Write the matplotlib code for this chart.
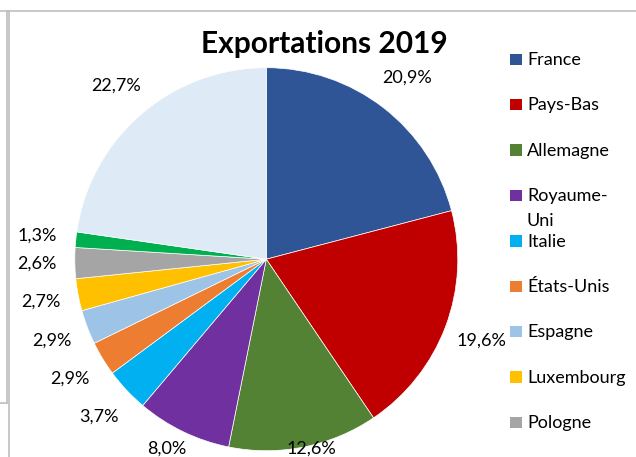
import numpy as np
import matplotlib
matplotlib.use('Agg')
from matplotlib import pyplot as plt
from matplotlib.lines import Line2D
from matplotlib.patches import Rectangle

plt.rcParams['font.family'] = ['Lato', 'DejaVu Sans']

# parts des exportations 2019 (%)
pays = ['France', 'Pays-Bas', 'Allemagne', 'Royaume-\nUni', 'Italie', 'États-Unis',
        'Espagne', 'Luxembourg', 'Pologne', 'Chine', 'Autres']
parts = [20.9, 19.6, 12.6, 8.0, 3.7, 2.9, 2.9, 2.7, 2.6, 1.3, 22.7]
couleurs = ['#2F5597', '#C00000', '#548235', '#7030A0', '#00B0F0', '#ED7D31',
            '#9DC3E6', '#FFC000', '#A5A5A5', '#00B050', '#DEEAF6']

W, H = 636, 457
fig = plt.figure(figsize=(W / 100, H / 100), dpi=100)

# pie centre (266, 259) px from top, radius ~191 px
cx, cy, r = 266.3, H - 259.2, 191.5
ax = fig.add_axes([(cx - r) / W, (cy - r) / H, 2 * r / W, 2 * r / H])

wedges, _, autotexts = ax.pie(parts, colors=couleurs, startangle=90, counterclock=False,
                              autopct=lambda p: f'{p:.1f}%'.replace('.', ','),
                              pctdistance=1.2,
                              wedgeprops=dict(edgecolor='white', linewidth=0.5),
                              textprops=dict(fontsize=13, color='black'))
ax.set_xlim(-1, 1)
ax.set_ylim(-1, 1)
ax.set_aspect('auto')

# keep bottom labels inside the chart area like Excel does
for t, v in zip(autotexts, parts):
    t.set_text(f'{v:.1f}%'.replace('.', ','))
    x, y = t.get_position()
    t.set_position((x, max(y, -0.99)))

fig.text(324 / W, 1 - 53.3 / H, 'Exportations 2019', ha='center', va='baseline',
         fontsize=21.5, fontweight='bold')

# legend drawn by hand (Excel keeps a fixed row pitch, the last rows fall off the chart)
for i, (nom, c) in enumerate(zip(pays, couleurs)):
    base = 65 + i * 45.4
    if base > H:
        break
    fig.add_artist(Rectangle((510 / W, 1 - base / H), 11.5 / W, 11.5 / H,
                             transform=fig.transFigure, facecolor=c, edgecolor='none'))
    for j, ligne in enumerate(nom.split('\n')):
        fig.text(527 / W, 1 - (base + j * 25) / H, ligne, ha='left', va='baseline',
                 fontsize=13)

# frame lines of the screenshot
gris = '#BFBFBF'
def trait(xs, ys):
    fig.add_artist(Line2D([x / W for x in xs], [1 - y / H for y in ys],
                          transform=fig.transFigure, color=gris, lw=1.2))

trait([0, W], [11, 11])
trait([7.3, 7.3], [11, 403])
trait([0, 7.3], [403, 403])
trait([9.3, 9.3], [11, H])

fig.savefig('out.png', dpi=100)
